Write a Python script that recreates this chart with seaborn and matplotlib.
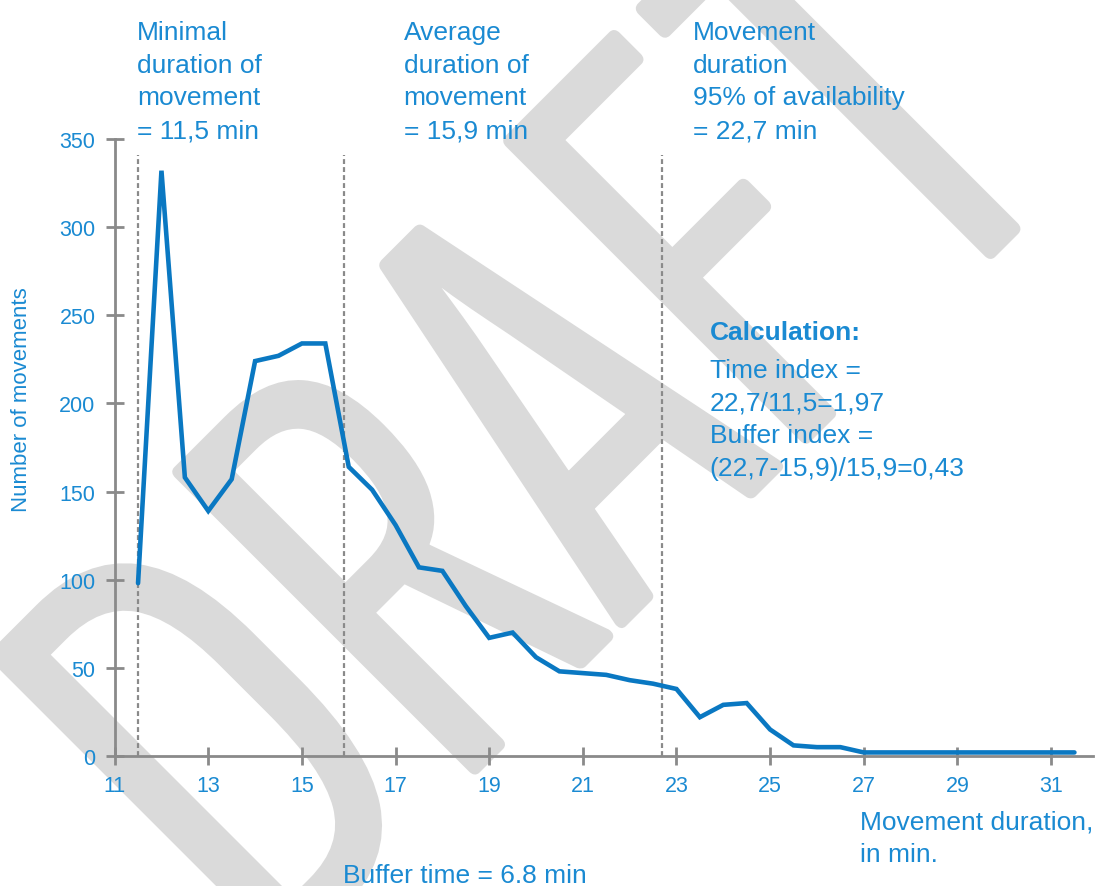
import numpy as np
import pandas as pd
import matplotlib
matplotlib.use("Agg")
import matplotlib.pyplot as plt
import matplotlib.patheffects as pe
import seaborn as sns

# Distribution of movement durations (minutes) and how many movements fall in each bin
duration = [11.5, 12.0, 12.5, 13.0, 13.5, 14.0, 14.5, 15.0, 15.5, 16.0,
            16.5, 17.0, 17.5, 18.0, 18.5, 19.0, 19.5, 20.0, 20.5, 21.0,
            21.5, 22.0, 22.5, 23.0, 23.5, 24.0, 24.5, 25.0, 25.5, 26.0,
            26.5, 27.0, 27.5, 28.0, 28.5, 29.0, 29.5, 30.0, 30.5, 31.0, 31.5]
movements = [98, 332, 158, 139, 157, 224, 227, 234, 234, 164,
             151, 131, 107, 105, 85, 67, 70, 56, 48, 47,
             46, 43, 41, 38, 22, 29, 30, 15, 6, 5,
             5, 2, 2, 2, 2, 2, 2, 2, 2, 2, 2]

# Reference durations marked with vertical lines
min_duration = 11.5
avg_duration = 15.9
p95_duration = 22.7

x_ticks = [11, 13, 15, 17, 19, 21, 23, 25, 27, 29, 31]
y_ticks = [0, 50, 100, 150, 200, 250, 300, 350]

label_min = "Minimal\nduration of\nmovement\n= 11,5 min"
label_avg = "Average\nduration of\nmovement\n= 15,9 min"
label_p95 = "Movement\nduration\n95% of availability\n= 22,7 min"
calc_title = "Calculation:"
calc_body = "Time index =\n22,7/11,5=1,97\nBuffer index =\n(22,7-15,9)/15,9=0,43"
x_title = "Movement duration,\nin min."
y_title = "Number of movements"
buffer_note = "Buffer time = 6.8 min"
watermark = "DRAFT"

sns.set_theme(style="white")
plt.rcParams["font.family"] = ["Liberation Sans", "DejaVu Sans"]

LINE = "#0a78c2"
TEXT = "#1a8ad2"
GREY = "#8a8a8a"
WM = "#dadada"

fig = plt.figure(figsize=(10.97, 8.87), dpi=100)
ax = fig.add_axes([0.1045, 0.1466, 0.892, 0.6956])
ax.patch.set_alpha(0)

# Light grey diagonal watermark behind everything
fig.text(0.614, 0.350, watermark, rotation=45, rotation_mode="anchor",
         ha="center", va="baseline", fontsize=470, color=WM,
         family=["Sofia Sans Extra Condensed", "IBM Plex Sans Condensed", "DejaVu Sans"],
         zorder=-5,
         path_effects=[pe.withStroke(linewidth=3, foreground=WM,
                                     capstyle="round", joinstyle="round")])

df = pd.DataFrame({"duration": duration, "movements": movements})
sns.lineplot(data=df, x="duration", y="movements", ax=ax, color=LINE,
             linewidth=3.3, solid_joinstyle="miter", zorder=4)

for v in (min_duration, avg_duration, p95_duration):
    ax.plot([v, v], [0, 341], color=GREY, linewidth=1.6,
            linestyle=(0, (2.2, 1.4)), zorder=3)

ax.set_xlim(11, 31.9)
ax.set_ylim(0, 350)
ax.set_xticks(x_ticks)
ax.set_yticks(y_ticks)
ax.set_xlabel("")
ax.set_ylabel("")

for side in ("top", "right"):
    ax.spines[side].set_visible(False)
for side in ("left", "bottom"):
    ax.spines[side].set_color(GREY)
    ax.spines[side].set_linewidth(2.0)
    ax.spines[side].set_zorder(2)

ax.tick_params(axis="both", direction="inout", length=13.5, width=2.0,
               color=GREY, labelcolor=TEXT, labelsize=15.5, pad=7)
ax.tick_params(axis="both", which="both", left=True, bottom=True)

fs = 19
ls = 1.46
fig.text(0.125, 0.8444, label_min, ha="left", va="baseline", fontsize=fs,
         color=TEXT, linespacing=ls)
fig.text(0.368, 0.8444, label_avg, ha="left", va="baseline", fontsize=fs,
         color=TEXT, linespacing=ls)
fig.text(0.632, 0.8444, label_p95, ha="left", va="baseline", fontsize=fs,
         color=TEXT, linespacing=ls)

fig.text(0.647, 0.6167, calc_title, ha="left", va="baseline", fontsize=fs,
         color=TEXT, fontweight="bold")
fig.text(0.647, 0.4634, calc_body, ha="left", va="baseline", fontsize=fs,
         color=TEXT, linespacing=ls)

fig.text(0.784, 0.0282, x_title, ha="left", va="baseline", fontsize=fs,
         color=TEXT, linespacing=ls)
fig.text(0.313, 0.0045, buffer_note, ha="left", va="baseline", fontsize=fs,
         color=TEXT)
fig.text(0.020, 0.549, y_title, ha="center", va="center", rotation=90,
         fontsize=16, color=TEXT)

fig.savefig("out.png", dpi=100)
